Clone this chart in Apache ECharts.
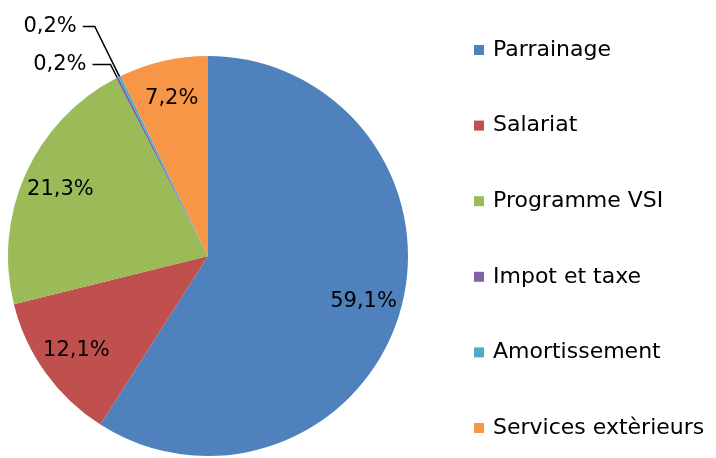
<!DOCTYPE html>
<html><head><meta charset="utf-8">
<script src="https://cdn.jsdelivr.net/npm/echarts@6/dist/echarts.min.js"></script>
<style>html,body{margin:0;padding:0;background:#fff}#c{width:716px;height:458px}</style>
</head><body><div id="c"></div>
<script>
const categories = ["Parrainage","Salariat","Programme VSI","Impot et taxe","Amortissement","Services extèrieurs"];
const values = [59.1, 12.1, 21.3, 0.2, 0.2, 7.2];
const labels = ["59,1%","12,1%","21,3%","0,2%","0,2%","7,2%"];
const colors = ["#4F81BD","#C0504D","#9BBB59","#8064A2","#4BACC6","#F79646"];
const FONT = "DejaVu Sans";

const chart = echarts.init(document.getElementById('c'));
const mainData = categories.map((n,i)=>({name:n, value:values[i], itemStyle:{color:colors[i]}}));
const labelData = categories.map((n,i)=>{
  const small = values[i] < 1;
  return {
    name:n, value:values[i],
    label: small ? {show:true, position:'outside', formatter:labels[i], distanceToLabelLine:6} : {show:true, position:'inside', formatter:labels[i]},
    labelLine: small ? {show:true, length: i===4 ? 56 : 15, length2: i===4 ? 12 : 18, lineStyle:{color:'#000', width:1.5}} : {show:false}
  };
});
chart.setOption({
  backgroundColor:'#fff',
  animation:false,
  legend:{
    orient:'vertical', left:469, top:34,
    icon:'rect', itemWidth:10, itemHeight:10, itemGap:53.6,
    data:categories,
    textStyle:{fontFamily:FONT, fontSize:22, color:'#000', lineHeight:22, padding:[0,0,0,4]}
  },
  series:[
    {type:'pie', center:[208,256], radius:[0,200], startAngle:90, clockwise:true,
     label:{show:false}, labelLine:{show:false}, silent:true, data:mainData},
    {type:'pie', center:[208,256], radius:[118,200], startAngle:90, clockwise:true, silent:true,
     itemStyle:{color:'rgba(0,0,0,0)'}, avoidLabelOverlap:true,
     label:{fontFamily:FONT, fontSize:21, color:'#000'},
     data:labelData}
  ]
});
</script></body></html>
